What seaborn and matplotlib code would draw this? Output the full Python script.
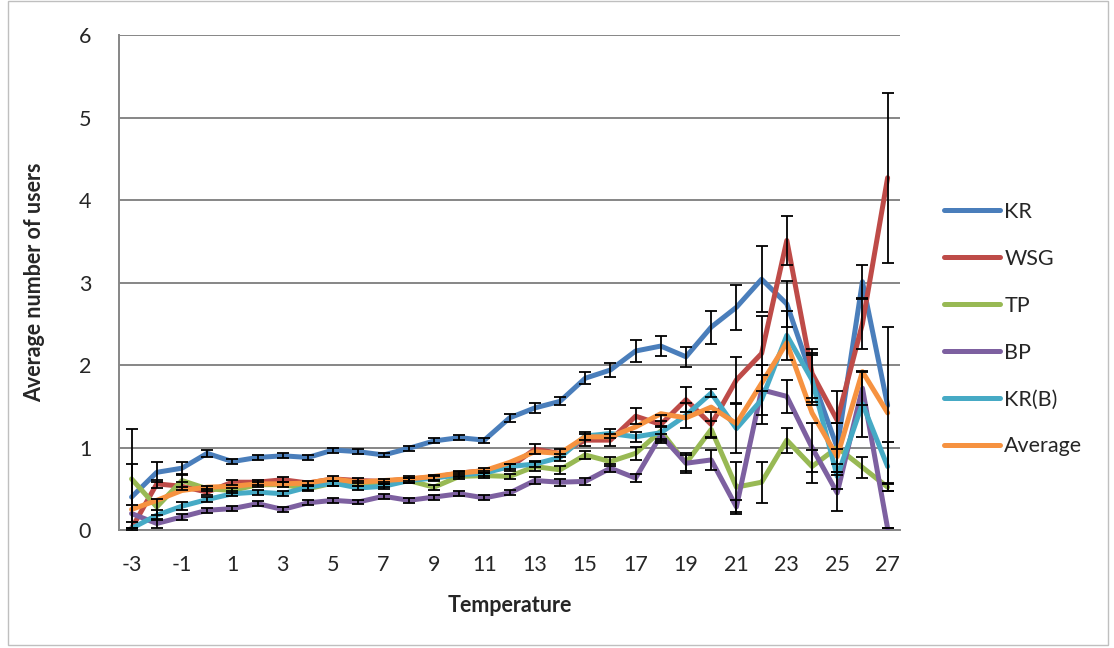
import numpy as np
import pandas as pd
import matplotlib
matplotlib.use("Agg")
import matplotlib.pyplot as plt
import seaborn as sns

# Temperature categories and series values
temps = list(range(-3, 28))

kr = [0.40, 0.70, 0.75, 0.93, 0.83, 0.88, 0.90, 0.88, 0.97, 0.95, 0.91, 0.99, 1.08, 1.12, 1.09, 1.36,
      1.48, 1.56, 1.84, 1.94, 2.17, 2.23, 2.10, 2.46, 2.70, 3.04, 2.74, 1.85, 1.00, 3.01, 1.51]
wsg = [0.02, 0.56, 0.53, 0.46, 0.58, 0.58, 0.61, 0.57, 0.62, 0.60, 0.59, 0.62, 0.64, 0.69, 0.72, 0.76,
       0.98, 0.93, 1.09, 1.09, 1.38, 1.28, 1.58, 1.28, 1.82, 2.14, 3.51, 1.90, 1.33, 2.50, 4.27]
tp = [0.62, 0.28, 0.60, 0.50, 0.48, 0.55, 0.55, 0.50, 0.57, 0.57, 0.55, 0.60, 0.52, 0.65, 0.66, 0.65,
      0.77, 0.73, 0.91, 0.83, 0.93, 1.20, 0.81, 1.22, 0.52, 0.58, 1.09, 0.77, 1.00, 0.76, 0.52]
bp = [0.20, 0.08, 0.16, 0.24, 0.26, 0.32, 0.25, 0.33, 0.36, 0.34, 0.41, 0.36, 0.40, 0.44, 0.39, 0.45,
      0.60, 0.58, 0.59, 0.75, 0.63, 1.15, 0.81, 0.85, 0.28, 1.70, 1.62, 1.00, 0.45, 1.72, 0.02]
krb = [0.02, 0.18, 0.29, 0.37, 0.44, 0.46, 0.44, 0.52, 0.57, 0.51, 0.53, 0.60, 0.63, 0.67, 0.69, 0.77,
       0.80, 0.88, 1.14, 1.17, 1.13, 1.18, 1.39, 1.66, 1.23, 1.58, 2.36, 1.82, 0.65, 1.53, 0.77]
avg = [0.25, 0.36, 0.48, 0.52, 0.53, 0.56, 0.56, 0.57, 0.62, 0.58, 0.60, 0.62, 0.65, 0.69, 0.72, 0.82,
       0.95, 0.93, 1.13, 1.13, 1.25, 1.41, 1.36, 1.49, 1.29, 1.78, 2.27, 1.42, 0.89, 1.92, 1.42]

# Error bar half-widths
kr_err = [0.40, 0.12, 0.08, 0.04, 0.03, 0.03, 0.03, 0.03, 0.03, 0.03, 0.03, 0.03, 0.03, 0.03, 0.03, 0.05,
          0.06, 0.05, 0.07, 0.08, 0.13, 0.12, 0.12, 0.20, 0.27, 0.40, 0.28, 0.30, 0.30, 0.20, 0.95]
wsg_err = [0.00, 0.05, 0.05, 0.04, 0.03, 0.03, 0.03, 0.03, 0.03, 0.03, 0.03, 0.03, 0.03, 0.03, 0.03, 0.04,
           0.06, 0.05, 0.07, 0.07, 0.10, 0.12, 0.15, 0.15, 0.28, 0.45, 0.30, 0.30, 0.35, 0.30, 1.03]
tp_err = [0.60, 0.10, 0.08, 0.03, 0.03, 0.03, 0.03, 0.03, 0.03, 0.03, 0.03, 0.03, 0.03, 0.03, 0.03, 0.03,
          0.05, 0.05, 0.05, 0.05, 0.08, 0.12, 0.12, 0.10, 0.30, 0.25, 0.15, 0.20, 0.30, 0.13, 0.05]
bp_err = [0.10, 0.05, 0.04, 0.03, 0.03, 0.03, 0.03, 0.03, 0.03, 0.03, 0.03, 0.03, 0.03, 0.03, 0.03, 0.03,
          0.04, 0.04, 0.04, 0.05, 0.05, 0.10, 0.10, 0.12, 0.08, 0.30, 0.20, 0.30, 0.22, 0.20, 0.00]
krb_err = [0.00, 0.06, 0.05, 0.03, 0.03, 0.03, 0.03, 0.03, 0.03, 0.03, 0.03, 0.03, 0.03, 0.03, 0.03, 0.03,
           0.04, 0.04, 0.05, 0.05, 0.06, 0.08, 0.15, 0.05, 0.30, 0.30, 0.30, 0.30, 0.15, 0.40, 0.30]

names = ["KR", "WSG", "TP", "BP", "KR(B)", "Average"]
values = [kr, wsg, tp, bp, krb, avg]
errors = [kr_err, wsg_err, tp_err, bp_err, krb_err, None]
colors = ["#4A7EBB", "#BE4B48", "#98B954", "#7D60A0", "#46AAC5", "#F69240"]

df = pd.concat([pd.DataFrame({"Temperature": temps, "users": v, "series": n})
                for n, v in zip(names, values)], ignore_index=True)

sns.set_style("white")
plt.rcParams["font.family"] = ["Lato", "DejaVu Sans"]
plt.rcParams["axes.unicode_minus"] = False

fig = plt.figure(figsize=(11.14, 6.48), dpi=100)
ax = fig.add_axes([0.1068, 0.182, 0.7013, 0.764])

sns.lineplot(data=df, x="Temperature", y="users", hue="series", hue_order=names,
             palette=colors, linewidth=3.6, ax=ax, legend=False, zorder=3,
             solid_capstyle="round", solid_joinstyle="round")

for v, e in zip(values, errors):
    if e is None:
        continue
    ax.errorbar(temps, v, yerr=e, fmt="none", ecolor="black", elinewidth=1.3,
                capsize=4.5, capthick=1.3, zorder=4)

ax.set_xlim(-3.5, 27.5)
ax.set_ylim(0, 6)
ax.set_yticks(range(0, 7))
ax.set_xticks(temps[::2])
ax.set_xticks(np.arange(-3.5, 28, 1), minor=True)
ax.tick_params(axis="x", which="major", length=0, labelsize=15.5, pad=18)
ax.tick_params(axis="x", which="minor", length=6, width=1.3, color="#868686", direction="out")
ax.tick_params(axis="y", length=6, width=1.3, color="#868686", direction="out", labelsize=15.5, pad=14)

ax.grid(axis="y", color="#868686", linewidth=1.4)
ax.set_axisbelow(True)
for s in ["top", "right"]:
    ax.spines[s].set_visible(False)
for s in ["left", "bottom"]:
    ax.spines[s].set_color("#868686")
    ax.spines[s].set_linewidth(1.4)

ax.set_xlabel("Temperature", fontsize=15.5, fontweight="bold", labelpad=14)
ax.set_ylabel("Average number of users", fontsize=15.5, fontweight="bold", labelpad=24)

handles = [plt.Line2D([], [], color=c, linewidth=3.6, solid_capstyle="round") for c in colors]
fig.legend(handles, names, loc="center left", bbox_to_anchor=(0.83, 0.492), frameon=False,
           fontsize=15.5, handlelength=2.6, handletextpad=0.2, labelspacing=1.25)

# light frame around the chart area
fig.patches.append(plt.Rectangle((0.007, 0.004), 0.988, 0.994, transform=fig.transFigure,
                                 fill=False, edgecolor="#BFBFBF", linewidth=1))

fig.savefig("out.png", dpi=100)
